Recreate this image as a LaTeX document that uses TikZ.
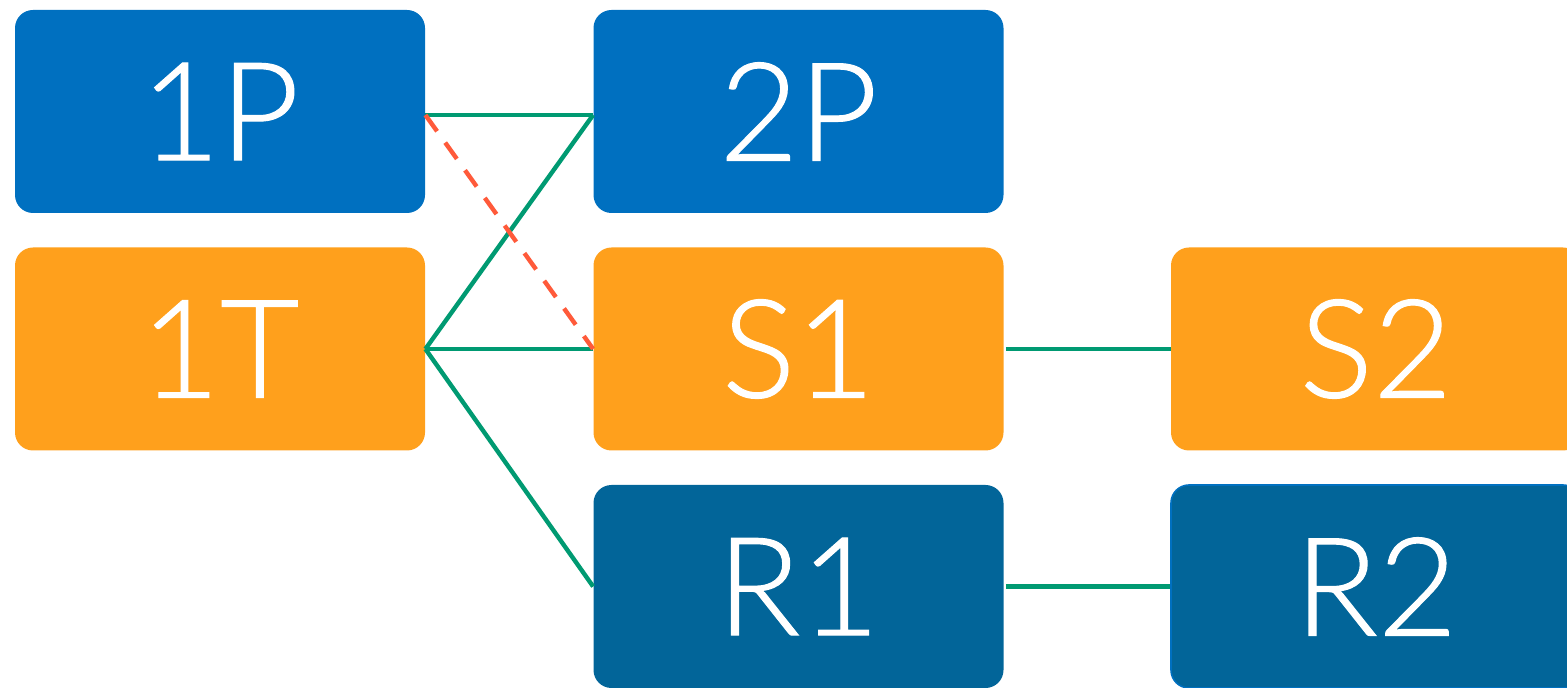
\documentclass[tikz,border=0pt]{standalone}
\usepackage{fontspec}
\setmainfont{Lato Light}
\newfontfamily\boxfont{Lato Light}[FakeBold=0.8]
\usepackage{tikz}

\definecolor{boxblue}{HTML}{0070C0}
\definecolor{boxorange}{HTML}{FFA01C}
\definecolor{boxdark}{HTML}{026599}
\definecolor{linkgreen}{HTML}{009A72}
\definecolor{linkred}{HTML}{FF5A3A}

\begin{document}
\begin{tikzpicture}
    [x=0.5pt,y=-0.5pt]
    \tikzstyle{box}=[rectangle, rounded corners=9pt, minimum width=205pt, minimum height=101.5pt, inner sep=0pt, text=white, font=\boxfont\fontsize{68.5}{72}\selectfont]
    \tikzstyle{link}=[draw=linkgreen, line width=2.2pt]
    \tikzstyle{oldlink}=[draw=linkred, line width=2.2pt, dash pattern=on 10pt off 7pt]
    \useasboundingbox (0,0) rectangle (1567,688);
    \node[box, fill=boxblue]   (P1) at (220,111.5) {1P};
    \node[box, fill=boxblue]   (P2) at (798.5,111.5) {2P};
    \node[box, fill=boxorange] (T1) at (220,349) {1T};
    \node[box, fill=boxorange] (S1) at (798.5,349) {S1};
    \node[box, fill=boxorange] (S2) at (1376,349) {S2};
    \node[box, fill=boxdark]   (R1) at (798.5,586.5) {R1};
    \node[box, fill=boxdark, draw=boxblue, line width=0.8pt] (R2) at (1376,586.5) {R2};
    \draw[link] ([yshift=-1.75pt]P1.east) -- ([yshift=-1.75pt]P2.west);
    \draw[link] (T1.east) -- ([yshift=-1.75pt]P2.west);
    \draw[link] (T1.east) -- (S1.west);
    \draw[link] (T1.east) -- (R1.west);
    \draw[oldlink] ([yshift=-1.75pt]P1.east) -- (S1.west);
    \draw[link] ([xshift=1pt]S1.east) -- (S2.west);
    \draw[link] ([xshift=1pt]R1.east) -- (R2.west);
\end{tikzpicture}
\end{document}
